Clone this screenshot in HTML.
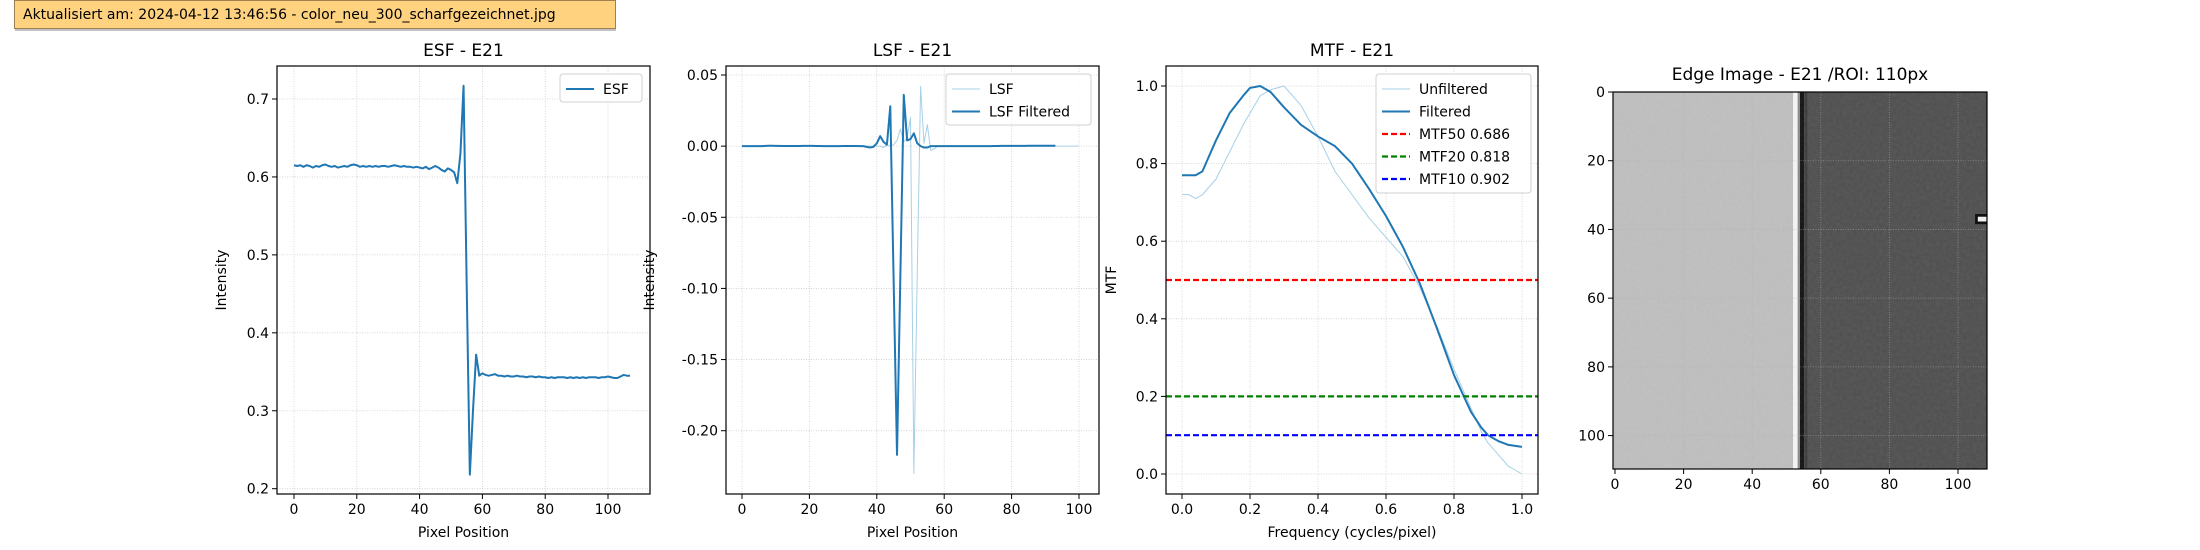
<!DOCTYPE html>
<html><head><meta charset="utf-8"><style>
html,body{margin:0;padding:0;background:#fff;}
svg{display:block;font-family:"DejaVu Sans","Liberation Sans",sans-serif;}
</style></head><body>
<svg id="s" width="2200" height="550" viewBox="0 0 2200 550" xmlns="http://www.w3.org/2000/svg">
<defs>
<filter id="noise" x="0" y="0" width="100%" height="100%">
<feTurbulence type="fractalNoise" baseFrequency="0.3" numOctaves="1" seed="3"/>
<feColorMatrix type="matrix" values="0 0 0 0 1  0 0 0 0 1  0 0 0 0 1  0 0 0 0.08 0"/>
</filter>
</defs>
<g>
<rect x="14.5" y="0.5" width="601" height="28" fill="#ffd280" stroke="#a08050" stroke-width="1"/>
<rect x="15" y="29" width="601" height="2" fill="#999" opacity="0.6"/>
<text x="23" y="19" font-size="14" fill="#000">Aktualisiert am: 2024-04-12 13:46:56 - color_neu_300_scharfgezeichnet.jpg</text>
</g>
<g id="g"></g>
</svg>
<script>
// ---- data ----
const esfX = [];
const esfVals = [0.615,0.614,0.615,0.613,0.615,0.614,0.612,0.614,0.613,0.615,0.616,0.614,0.613,0.614,0.612,0.613,0.614,0.613,0.615,0.616,0.615,0.613,0.614,0.613,0.614,0.613,0.614,0.613,0.614,0.614,0.613,0.614,0.615,0.614,0.613,0.614,0.613,0.613,0.612,0.613,0.612,0.611,0.613,0.610,0.612,0.614,0.612,0.609,0.607,0.611,0.609,0.606,0.592,0.630,0.717,0.460,0.218,0.300,0.372,0.345,0.348,0.346,0.345,0.346,0.347,0.345,0.345,0.344,0.345,0.344,0.344,0.345,0.344,0.344,0.343,0.344,0.344,0.343,0.344,0.343,0.343,0.342,0.343,0.342,0.343,0.343,0.343,0.342,0.343,0.342,0.343,0.342,0.343,0.342,0.343,0.343,0.343,0.342,0.343,0.343,0.344,0.343,0.342,0.342,0.344,0.346,0.345,0.345];
const lsfFilt = [0.000,0.000,0.000,0.000,0.000,0.000,0.000,0.0002,0.0003,0.0003,0.0002,0.0002,0.0001,0.0001,0.0001,0.0001,0.0001,0.0001,0.0002,0.0002,0.0002,0.0002,0.0001,0.0001,0.0000,0.0000,0.0000,0.0000,0.0000,0.0000,0.0001,0.0001,0.0001,0.0001,0.0001,0.0000,0.0000,-0.0005,-0.001,-0.0005,0.002,0.007,0.003,0.001,0.028,-0.095,-0.217,-0.09,0.036,0.004,0.005,0.009,0.002,0.000,-0.001,-0.001,0.000,0.000,0.000,0.000,0.000,0.000,0.000,0.000,0.000,0.000,0.000,0.000,0.000,0.000,0.000,0.000,0.000,0.000,0.000,0.0001,0.0001,0.0002,0.0002,0.0002,0.0002,0.0002,0.0002,0.0002,0.0002,0.0003,0.0003,0.0003,0.0003,0.0003,0.0003,0.0003,0.0003,0.0003];
const lsfRaw = [0.000,0.000,0.000,0.000,0.000,0.000,0.000,0.000,0.000,0.000,0.000,0.000,0.000,0.000,0.000,0.000,0.000,0.000,0.000,0.000,0.000,0.000,0.000,0.000,0.000,0.000,0.000,0.000,0.000,0.000,0.000,0.000,0.000,0.000,0.000,0.000,0.000,0.000,0.000,0.000,0.000,0.000,-0.001,0.001,0.000,0.001,0.004,0.012,0.003,0.006,0.020,-0.230,-0.090,0.042,0.002,0.015,-0.003,-0.002,0.000,0.000,0.000,0.000,0.000,0.000,0.000,0.000,0.000,0.000,0.000,0.000,0.000,0.000,0.000,0.000,0.000,0.000,0.000,0.000,0.000,0.000,0.000,0.000,0.000,0.000,0.000,0.000,0.000,0.000,0.000,0.000,0.000,0.000,0.000,0.000,0.000,0.000,0.000,0.000,0.000,0.000,0.000];
const mtfFreq = [0,0.02,0.04,0.06,0.1,0.14,0.18,0.2,0.23,0.26,0.3,0.35,0.4,0.45,0.5,0.55,0.6,0.65,0.7,0.75,0.8,0.85,0.88,0.9,0.93,0.96,1.0];
const mtfFilt = [0.77,0.77,0.77,0.78,0.86,0.93,0.975,0.995,1.0,0.985,0.945,0.90,0.87,0.845,0.80,0.735,0.665,0.585,0.49,0.375,0.255,0.16,0.12,0.10,0.085,0.075,0.07];
const mtfRaw = [0.72,0.72,0.71,0.72,0.76,0.83,0.90,0.93,0.975,0.99,1.0,0.95,0.87,0.78,0.72,0.66,0.61,0.56,0.48,0.38,0.27,0.17,0.11,0.08,0.05,0.02,0.0];
const mtfLevels = [0.5,0.2,0.1];
const mtfLevelLabels = ["MTF50 0.686","MTF20 0.818","MTF10 0.902"];
const esfYTicks = [0.2,0.3,0.4,0.5,0.6,0.7];
const lsfYTicks = [-0.20,-0.15,-0.10,-0.05,0.00,0.05];
const pixXTicks = [0,20,40,60,80,100];
const mtfTicks = [0.0,0.2,0.4,0.6,0.8,1.0];
const imgTicks = [0,20,40,60,80,100];
for(let i=0;i<esfVals.length;i++) esfX.push(i);

const NS="http://www.w3.org/2000/svg";
const G=document.getElementById('g');
function el(tag,attrs,parent){const e=document.createElementNS(NS,tag);for(const k in attrs)e.setAttribute(k,attrs[k]);(parent||G).appendChild(e);return e;}
function txt(s,attrs,parent){const e=el('text',attrs,parent);e.textContent=s;return e;}
function lin(d0,d1,r0,r1){return v=>r0+(v-d0)/(d1-d0)*(r1-r0);}

function axes(name,box,sx,sy,xt,yt,xfmt,yfmt,title,xlab,ylab,ylabX){
  const g=el('g',{});
  
  
  xt.forEach(v=>{const x=sx(v);el('line',{x1:x,x2:x,y1:box.t,y2:box.b,stroke:'#b0b0b0','stroke-width':0.8,'stroke-dasharray':'1,1.5',opacity:0.6},g);
    el('line',{x1:x,x2:x,y1:box.b,y2:box.b+5,stroke:'#000','stroke-width':1},g);
    const t=txt(xfmt(v),{x:x,y:box.b+20,'font-size':14,'text-anchor':'middle'},g);
    });
  yt.forEach(v=>{const y=sy(v);el('line',{x1:box.l,x2:box.r,y1:y,y2:y,stroke:'#b0b0b0','stroke-width':0.8,'stroke-dasharray':'1,1.5',opacity:0.6},g);
    el('line',{x1:box.l-5,x2:box.l,y1:y,y2:y,stroke:'#000','stroke-width':1},g);
    const t=txt(yfmt(v),{x:box.l-8,y:y+5,'font-size':14,'text-anchor':'end'},g);
    });
  const tt=txt(title,{x:(box.l+box.r)/2,y:box.t-10,'font-size':17,'text-anchor':'middle'},g);
  
  if(xlab){const t=txt(xlab,{x:(box.l+box.r)/2,y:box.b+43,'font-size':14,'text-anchor':'middle'},g);
    }
  if(ylab){const t=txt(ylab,{x:ylabX,y:(box.t+box.b)/2,'font-size':14,'text-anchor':'middle',transform:`rotate(-90 ${ylabX} ${(box.t+box.b)/2})`},g);
    }
  return g;
}
function frame(box,g){el('rect',{x:box.l,y:box.t,width:box.r-box.l,height:box.b-box.t,fill:'none',stroke:'#000','stroke-width':1.2},g);}
function path(xs,ys,sx,sy,attrs,g,name){const d=xs.map((x,i)=>(i?'L':'M')+sx(x).toFixed(2)+','+sy(ys[i]).toFixed(2)).join('');
  const p=el('path',Object.assign({d:d,fill:'none','stroke-linejoin':'round'},attrs),g);return p;}
function legend(box,items,g){const lg=el('g',{},g);
  el('rect',{x:box.x,y:box.y,width:box.w,height:box.h,rx:3,fill:'#fff','fill-opacity':0.85,stroke:'#d0d0d0'},lg);
  items.forEach((it,i)=>{const y=box.y+15+i*22.5;
    el('line',Object.assign({x1:box.x+6,x2:box.x+34,y1:y,y2:y},it.style),lg);
    const t=txt(it.label,{x:box.x+43,y:y+5,'font-size':14},lg);});}

const blue='#1f77b4', light='#a6d0e6';
const f1=v=>v.toFixed(1), f2=v=>v.toFixed(2), f0=v=>String(v);

// ESF
{const box={l:277,r:650,t:66,b:494};const sx=lin(0,100,294,608),sy=lin(0.2,0.7,488.7,99);
 const g=axes('esf-chart',box,sx,sy,pixXTicks,esfYTicks,f0,f1,'ESF - E21','Pixel Position','Intensity',226);
 path(esfX,esfVals,sx,sy,{stroke:blue,'stroke-width':2},g,'esf-line');
 frame(box,g);legend({x:560,y:74,w:82,h:28},[{label:'ESF',style:{stroke:blue,'stroke-width':2}}],g);}
// LSF
{const box={l:726,r:1099,t:66,b:494};const sx=lin(0,100,742,1079),sy=lin(-0.2,0.05,430.7,75);
 const g=axes('lsf-chart',box,sx,sy,pixXTicks,lsfYTicks,f0,f2,'LSF - E21','Pixel Position','Intensity',654);
 path(lsfRaw.map((_,i)=>i),lsfRaw,sx,sy,{stroke:light,'stroke-width':1},g,'lsf-raw-line');
 path(lsfFilt.map((_,i)=>i),lsfFilt,sx,sy,{stroke:blue,'stroke-width':2},g,'lsf-filtered-line');
 frame(box,g);legend({x:946,y:74,w:145,h:51},[{label:'LSF',style:{stroke:light,'stroke-width':1}},{label:'LSF Filtered',style:{stroke:blue,'stroke-width':2}}],g);}
// MTF
{const box={l:1166,r:1538,t:66,b:494};const sx=lin(0,1,1182,1522),sy=lin(0,1,474,86);
 const g=axes('mtf-chart',box,sx,sy,mtfTicks,mtfTicks,f1,f1,'MTF - E21','Frequency (cycles/pixel)','MTF',1116);
 path(mtfFreq,mtfRaw,sx,sy,{stroke:light,'stroke-width':1},g,'mtf-unfiltered-line');
 path(mtfFreq,mtfFilt,sx,sy,{stroke:blue,'stroke-width':2},g,'mtf-filtered-line');
 const cols=['#ff0000','#008000','#0000ff'];
 mtfLevels.forEach((v,i)=>{const l=el('line',{x1:box.l,x2:box.r,y1:sy(v),y2:sy(v),stroke:cols[i],'stroke-width':2.2,'stroke-dasharray':'6,3'},g);
   });
 frame(box,g);
 legend({x:1376,y:74,w:155,h:119},[{label:'Unfiltered',style:{stroke:light,'stroke-width':1}},{label:'Filtered',style:{stroke:blue,'stroke-width':2}}].concat(mtfLevelLabels.map((s,i)=>({label:s,style:{stroke:cols[i],'stroke-width':2.2,'stroke-dasharray':'6,3'}}))),g);}
// Edge image
{const box={l:1613,r:1987,t:92,b:469};const sx=lin(0,100,1615,1958),sy=lin(0,100,92,435.6);
 const g=el('g',{});
 const img=el('g',{},g);
 const px=(box.r-box.l)/110;
 el('rect',{x:box.l,y:box.t,width:53*px,height:box.b-box.t,fill:'#bcbcbc'},img);
 el('rect',{x:box.l+53*px,y:box.t,width:1.3*px,height:box.b-box.t,fill:'#f2f2f2'},img);
 el('rect',{x:box.l+54.3*px,y:box.t,width:0.7*px,height:box.b-box.t,fill:'#888'},img);
 el('rect',{x:box.l+55*px,y:box.t,width:1.2*px,height:box.b-box.t,fill:'#111'},img);
 el('rect',{x:box.l+56.2*px,y:box.t,width:1*px,height:box.b-box.t,fill:'#3a3a3a'},img);
 el('rect',{x:box.l+57.2*px,y:box.t,width:box.r-(box.l+57.2*px),height:box.b-box.t,fill:'#4d4d4d'},img);
 el('rect',{x:box.l,y:box.t,width:box.r-box.l,height:box.b-box.t,filter:'url(#noise)'},img);
 el('rect',{x:box.l+106.5*px,y:sy(35.5),width:3.5*px,height:3*px,fill:'#111'},img);
 el('rect',{x:box.l+107.3*px,y:sy(36.3),width:2.7*px,height:1.4*px,fill:'#f0f0f0'},img);
 imgTicks.forEach(v=>{const x=sx(v),y=sy(v);
   el('line',{x1:x,x2:x,y1:box.t,y2:box.b,stroke:'#b0b0b0','stroke-width':0.8,'stroke-dasharray':'1,1.5',opacity:0.6},g);
   el('line',{x1:box.l,x2:box.r,y1:y,y2:y,stroke:'#b0b0b0','stroke-width':0.8,'stroke-dasharray':'1,1.5',opacity:0.6},g);
   el('line',{x1:x,x2:x,y1:box.b,y2:box.b+5,stroke:'#000'},g);
   el('line',{x1:box.l-5,x2:box.l,y1:y,y2:y,stroke:'#000'},g);
   const a=txt(String(v),{x:x,y:box.b+20,'font-size':14,'text-anchor':'middle'},g);
   const b=txt(String(v),{x:box.l-8,y:y+5,'font-size':14,'text-anchor':'end'},g);});
 frame(box,g);
 const t=txt('Edge Image - E21 /ROI: 110px',{x:(box.l+box.r)/2,y:box.t-12,'font-size':17,'text-anchor':'middle'},g);
 }
</script>
</body></html>
